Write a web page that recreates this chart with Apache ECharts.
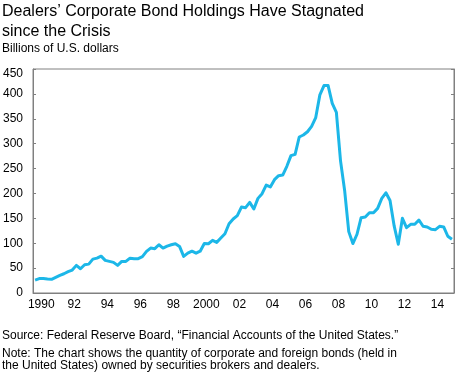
<!DOCTYPE html>
<html>
<head>
<meta charset="utf-8">
<script src="https://cdn.jsdelivr.net/npm/echarts@6/dist/echarts.min.js"></script>
<style>
    html, body { margin: 0; padding: 0; background: #fff; }
    #main { width: 460px; height: 376px; }
</style>
</head>
<body>
<div id="main"></div>
<script>
// quarterly, 1990Q1 - 2015Q1, billions of U.S. dollars
var startYear = 1990;
var holdings = [
    26, 29, 29, 28, 27.5, 31.5, 35.5, 38.7,
    42.8, 46, 55.5, 48.8, 56.8, 58, 68, 70,
    74, 65.5, 63.5, 61.5, 55.5, 63.5, 63.5, 70,
    69, 69, 73, 83.6, 90.3, 89, 97, 90.3,
    94.3, 97, 99, 93.6, 73.5, 80, 84, 80,
    84, 99.6, 99, 105.7, 101.7, 110.4, 119, 139.2,
    148.6, 155.3, 172.7, 171.4, 182, 168.7, 190.1, 199.5,
    216.9, 213, 227.7, 235.7, 237, 254.5, 275.9, 278.6,
    313.4, 317.4, 324, 334.8, 352.5, 398, 416.7, 416.7,
    381, 363, 266, 206, 123.3, 99.3, 118, 151.3,
    152.7, 161.3, 161.3, 170, 190, 201.3, 186, 134.7,
    98, 150, 131.3, 138, 138, 146.7, 134, 132.7,
    128, 127.3, 134, 132.7, 114, 108
];
var labelYears = [1990, 1992, 1994, 1996, 1998, 2000, 2002, 2004, 2006, 2008, 2010, 2012, 2014];
var labelText = ['1990', '92', '94', '96', '98', '2000', '02', '04', '06', '08', '10', '12', '14'];
var yTicks = [0, 50, 100, 150, 200, 250, 300, 350, 400, 450];

var quarters = [];
holdings.forEach(function (v, i) {
    quarters.push((startYear + Math.floor(i / 4)) + 'Q' + (i % 4 + 1));
});

var font = 'Liberation Sans, Arial, sans-serif';
var gray = '#808080';

var myChart = echarts.init(document.getElementById('main'), null, {renderer: 'canvas'});
var option = {
    backgroundColor: '#fff',
    animation: false,
    textStyle: {fontFamily: font},
    title: [
        {
            text: 'Dealers\u2019 Corporate Bond Holdings Have Stagnated\nsince the Crisis',
            left: 2, top: 2, padding: 0,
            textStyle: {fontSize: 16, fontWeight: 'normal', color: '#000', lineHeight: 20, fontFamily: font}
        },
        {
            text: 'Billions of U.S. dollars',
            left: 2, top: 42, padding: 0,
            textStyle: {fontSize: 12, fontWeight: 'normal', color: '#000', lineHeight: 14, fontFamily: font}
        },
        {
            text: 'Source: Federal Reserve Board, \u201cFinancial Accounts of the United States.\u201d',
            left: 2, top: 329, padding: 0,
            textStyle: {fontSize: 12, fontWeight: 'normal', color: '#000', lineHeight: 14, fontFamily: font}
        },
        {
            text: 'Note: The chart shows the quantity of corporate and foreign bonds (held in\nthe United States) owned by securities brokers and dealers.',
            left: 2, top: 348, padding: 0,
            textStyle: {fontSize: 12, fontWeight: 'normal', color: '#000', lineHeight: 11.5, fontFamily: font}
        }
    ],
    grid: {
        left: 32, right: 6, top: 69, bottom: 83,
        show: true, borderColor: gray, borderWidth: 1
    },
    xAxis: [
        {
            type: 'category',
            data: quarters,
            boundaryGap: true,
            axisLine: {lineStyle: {color: gray}},
            axisTick: {inside: true, length: 3, interval: 3, lineStyle: {color: gray}},
            axisLabel: {show: false},
            splitLine: {show: false}
        },
        {
            type: 'value',
            position: 'bottom',
            min: startYear - 0.5,
            max: startYear - 0.5 + holdings.length / 4,
            interval: 0.5,
            axisLine: {show: false},
            axisTick: {show: false},
            splitLine: {show: false},
            axisLabel: {
                margin: 6,
                fontSize: 12,
                color: '#000',
                fontFamily: font,
                showMinLabel: true,
                showMaxLabel: true,
                formatter: function (v) {
                    var k = labelYears.indexOf(Math.round(v * 2) / 2);
                    return k >= 0 ? labelText[k] : '';
                }
            }
        }
    ],
    yAxis: [
        {
            type: 'value',
            min: yTicks[0], max: yTicks[yTicks.length - 1], interval: 50,
            axisLine: {show: true, lineStyle: {color: gray}},
            axisTick: {show: true, inside: true, length: 3, lineStyle: {color: gray}},
            splitLine: {show: false},
            axisLabel: {
                margin: 10,
                fontSize: 12,
                color: '#000',
                fontFamily: font,
                formatter: function (v) {
                    return v === 450 ? '{t|' + v + '}' : String(v);
                },
                rich: {
                    t: {fontSize: 12, color: '#000', fontFamily: font, padding: [10, 0, 0, 0]}
                }
            }
        },
        {
            type: 'value',
            position: 'right',
            min: yTicks[0], max: yTicks[yTicks.length - 1], interval: 50,
            axisLine: {show: true, lineStyle: {color: gray}},
            axisTick: {show: true, inside: true, length: 3, lineStyle: {color: gray}},
            axisLabel: {show: false},
            splitLine: {show: false}
        }
    ],
    series: [
        {
            name: 'Holdings',
            type: 'line',
            xAxisIndex: 0,
            yAxisIndex: 0,
            data: holdings,
            showSymbol: false,
            symbol: 'none',
            lineStyle: {color: '#1cb7e8', width: 3, join: 'round'}
        }
    ]
};
myChart.setOption(option);
</script>
</body>
</html>
